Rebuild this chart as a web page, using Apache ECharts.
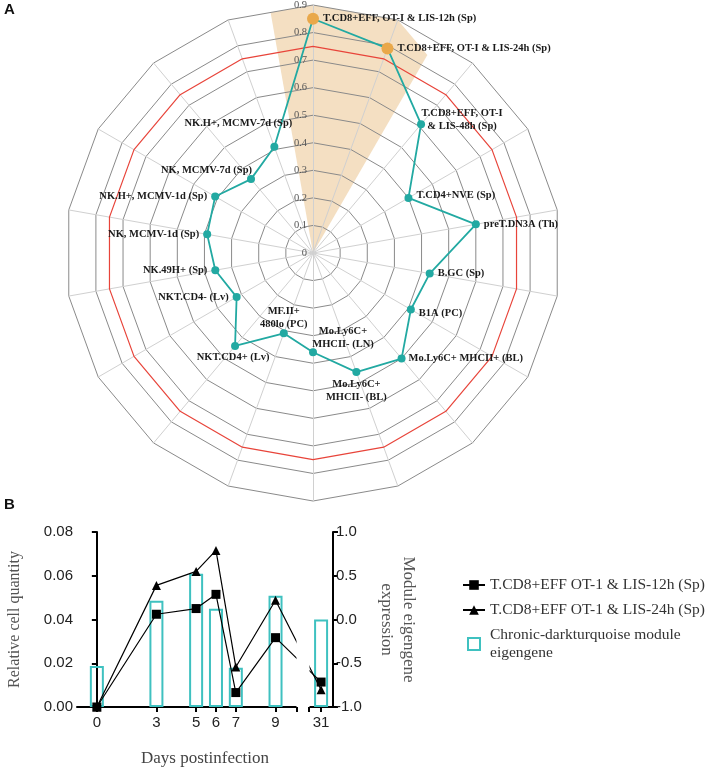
<!DOCTYPE html>
<html><head><meta charset="utf-8">
<script src="https://cdn.jsdelivr.net/npm/echarts@6/dist/echarts.min.js"></script>
<style>html,body{margin:0;padding:0;background:#fff}#c{width:708px;height:769px}</style>
</head><body><div id="c"></div>
<script>
// ---------- Panel A data ----------
const radarCategories = [
  'T.CD8+EFF, OT-I & LIS-12h (Sp)',
  'T.CD8+EFF, OT-I & LIS-24h (Sp)',
  'T.CD8+EFF, OT-I\n& LIS-48h (Sp)',
  'T.CD4+NVE (Sp)',
  'preT.DN3A (Th)',
  'B.GC (Sp)',
  'B1A (PC)',
  'Mo.Ly6C+ MHCII+ (BL)',
  'Mo.Ly6C+\nMHCII- (BL)',
  'Mo.Ly6C+\nMHCII- (LN)',
  'MF.II+\n480lo (PC)',
  'NKT.CD4+ (Lv)',
  'NKT.CD4- (Lv)',
  'NK.49H+ (Sp)',
  'NK, MCMV-1d (Sp)',
  'NK.H+, MCMV-1d (Sp)',
  'NK, MCMV-7d (Sp)',
  'NK.H+, MCMV-7d (Sp)'
];
const radarValues = [0.85, 0.79, 0.61, 0.40, 0.60, 0.43, 0.41, 0.50, 0.46, 0.36, 0.31, 0.44, 0.32, 0.36, 0.39, 0.41, 0.35, 0.41];
const highlightedIdx = [0, 1];
const thresholdValue = 0.75;
const radarMax = 0.9;
const wedgeAxisPos = [-0.5, 0, 1, 1.5];
const wedgeRadius = [0.886, 0.9, 0.9, 0.83];

// ---------- Panel B data ----------
const days = [0, 3, 5, 6, 7, 9, 31];
const qty12h = [0.000, 0.0424, 0.0450, 0.0515, 0.0066, 0.0317, 0.0114];
const qty24h = [0.000, 0.0556, 0.0620, 0.0716, 0.0183, 0.0488, 0.0079];
const eigengene = [-0.53, 0.215, 0.524, 0.124, -0.55, 0.272, 0.0];
const seriesNames = ['T.CD8+EFF OT-1 & LIS-12h (Sp)', 'T.CD8+EFF OT-1 & LIS-24h (Sp)', 'Chronic-darkturquoise module\neigengene'];

// ---------- styles ----------
const N = radarCategories.length;
const step = 360 / N;
const teal = '#22a9a2';
const orange = '#e9a84a';
const labelLayout = [
  {position: 'right', distance: 4},
  {position: 'right', distance: 4},
  {position: 'right', distance: 4, align: 'center', offset: [33, -4]},
  {position: 'right', distance: 4, offset: [0, -3]},
  {position: 'right', distance: 4},
  {position: 'right', distance: 4},
  {position: 'right', distance: 4, offset: [0, 4]},
  {position: 'right', distance: 3},
  {position: 'bottom', distance: 4, offset: [0, -2]},
  {position: 'top', distance: 4, offset: [30, 7]},
  {position: 'top', distance: 4, offset: [0, 6]},
  {position: 'bottom', distance: 4, offset: [-2, -3]},
  {position: 'left', distance: 4},
  {position: 'left', distance: 4},
  {position: 'left', distance: 4},
  {position: 'left', distance: 4},
  {position: 'left', distance: 4, offset: [9, -9]},
  {position: 'top', distance: 4, offset: [-36, -9]}
];
const labelFont = {fontFamily: 'Liberation Serif', fontWeight: 'bold', fontSize: 10.5, color: '#1a1a1a', lineHeight: 13};

const lineData = radarValues.map((v, i) => {
  const hi = highlightedIdx.indexOf(i) >= 0;
  return {
    value: [v, i * step],
    symbolSize: hi ? 12 : 8,
    itemStyle: {color: hi ? orange : teal},
    label: Object.assign({show: true, formatter: radarCategories[i]}, labelFont, labelLayout[i])
  };
});
lineData.push({value: [radarValues[0], 360], symbol: 'none', label: {show: false}});

const chart = echarts.init(document.getElementById('c'), null, {renderer: 'canvas'});
const option = {
  backgroundColor: '#fff',
  animation: false,
  graphic: [
    {type: 'text', left: 4, top: 2, style: {text: 'A', font: 'bold 15px "Liberation Sans"', fill: '#111'}},
    {type: 'text', left: 4, top: 497, style: {text: 'B', font: 'bold 15px "Liberation Sans"', fill: '#111'}}
  ],
  radar: {
    center: [313, 253],
    radius: 248,
    startAngle: 90,
    splitNumber: 9,
    shape: 'polygon',
    indicator: radarCategories.map((n, i) => i === 0 ?
      {name: n, min: 0, max: radarMax, axisLabel: {show: true, showMinLabel: true, fontFamily: 'Liberation Serif', fontSize: 10.5, color: '#555', margin: 6}} :
      {name: n, min: 0, max: radarMax}),
    axisName: {show: false},
    splitLine: {lineStyle: {color: '#8a8a8a', width: 1}},
    splitArea: {show: false},
    axisLine: {lineStyle: {color: '#d0d0d0', width: 1}},
    axisTick: {show: false},
    axisLabel: {show: false}
  },
  polar: {center: [313, 253], radius: 248},
  angleAxis: {type: 'value', min: 0, max: 360, startAngle: 90, clockwise: true, show: false},
  radiusAxis: {type: 'value', min: 0, max: radarMax, show: false},
  grid: {left: 77, top: 532, width: 256, height: 175},
  xAxis: {
    type: 'value', gridIndex: 0, min: -1, max: 31.6,
    breaks: [{start: 10.05, end: 30.4, gap: '5%'}],
    breakArea: {show: true, zigzagAmplitude: 0, itemStyle: {color: '#fff', borderColor: '#fff', borderWidth: 0, opacity: 1}},
    axisLine: {onZero: false, lineStyle: {color: '#000', width: 2}},
    axisTick: {customValues: [0, 3, 5, 6, 7, 9, 10.05, 30.4, 31], length: 5, lineStyle: {color: '#000', width: 2}},
    axisLabel: {customValues: days, fontFamily: 'Liberation Sans', fontSize: 15, color: '#222', margin: 8},
    splitLine: {show: false},
    name: 'Days postinfection', nameLocation: 'middle', nameGap: 43,
    nameTextStyle: {fontFamily: 'Liberation Serif', fontSize: 17, color: '#444'}
  },
  yAxis: [
    {
      type: 'value', gridIndex: 0, min: 0, max: 0.08, interval: 0.02, position: 'left',
      axisLine: {show: true, lineStyle: {color: '#000', width: 2}},
      axisTick: {show: true, length: 5, lineStyle: {color: '#000', width: 2}},
      axisLabel: {formatter: v => v.toFixed(2), fontFamily: 'Liberation Sans', fontSize: 15, color: '#222', margin: 4},
      splitLine: {show: false},
      name: 'Relative cell quantity', nameLocation: 'middle', nameGap: 54,
      nameTextStyle: {fontFamily: 'Liberation Serif', fontSize: 16, color: '#555'}
    },
    {
      type: 'value', gridIndex: 0, min: -1, max: 1, interval: 0.5, position: 'right', startValue: -1,
      axisLine: {show: true, lineStyle: {color: '#000', width: 2}},
      axisTick: {show: true, length: 5, lineStyle: {color: '#000', width: 2}},
      axisLabel: {formatter: v => v.toFixed(1), fontFamily: 'Liberation Sans', fontSize: 15, color: '#222', margin: 3},
      splitLine: {show: false},
      name: 'Module eigengene\nexpression', nameLocation: 'middle', nameGap: 42, nameRotate: -90,
      nameTextStyle: {fontFamily: 'Liberation Serif', fontSize: 17, color: '#555', lineHeight: 22}
    }
  ],
  legend: {
    orient: 'vertical', left: 457, top: 571, itemGap: 7, itemWidth: 22, itemHeight: 12,
    data: [
      {name: seriesNames[0]},
      {name: seriesNames[1]},
      {name: seriesNames[2], icon: 'path://M0,0L10,0L10,10L0,10Z'}
    ],
    textStyle: {fontFamily: 'Liberation Serif', fontSize: 15.5, color: '#333', lineHeight: 18}
  },
  series: [
    {
      type: 'custom', coordinateSystem: 'polar', z: -1, silent: true,
      data: [[0]],
      renderItem: function (params, api) {
        const pts = [api.coord([0, 0])];
        wedgeAxisPos.forEach((p, k) => {
          const ang = ((p * step) % 360 + 360) % 360;
          pts.push(api.coord([wedgeRadius[k], ang]));
        });
        return {type: 'polygon', shape: {points: pts}, style: {fill: '#f4dfc2', stroke: null}};
      }
    },
    {
      type: 'radar', radarIndex: 0, symbol: 'none', silent: true, z: 1,
      lineStyle: {color: '#e8443a', width: 1.2},
      data: [{value: radarCategories.map(() => thresholdValue)}]
    },
    {
      type: 'line', coordinateSystem: 'polar', symbol: 'circle', z: 3,
      lineStyle: {color: teal, width: 1.8},
      itemStyle: {color: teal},
      data: lineData
    },
    {
      name: seriesNames[2], type: 'bar', xAxisIndex: 0, yAxisIndex: 1, barWidth: 14,
      itemStyle: {color: 'rgba(255,255,255,0)', borderColor: '#3fc1c0', borderWidth: 2},
      data: days.map((d, i) => [d, eigengene[i]])
    },
    {
      name: seriesNames[0], type: 'line', xAxisIndex: 0, yAxisIndex: 0, symbol: 'rect', symbolSize: 9,
      itemStyle: {color: '#000'}, lineStyle: {color: '#000', width: 1.2},
      data: days.map((d, i) => [d, qty12h[i]])
    },
    {
      name: seriesNames[1], type: 'line', xAxisIndex: 0, yAxisIndex: 0, symbol: 'triangle', symbolSize: 9,
      itemStyle: {color: '#000'}, lineStyle: {color: '#000', width: 1.2},
      data: days.map((d, i) => [d, qty24h[i]])
    }
  ]
};
chart.setOption(option);
</script>
</body></html>
